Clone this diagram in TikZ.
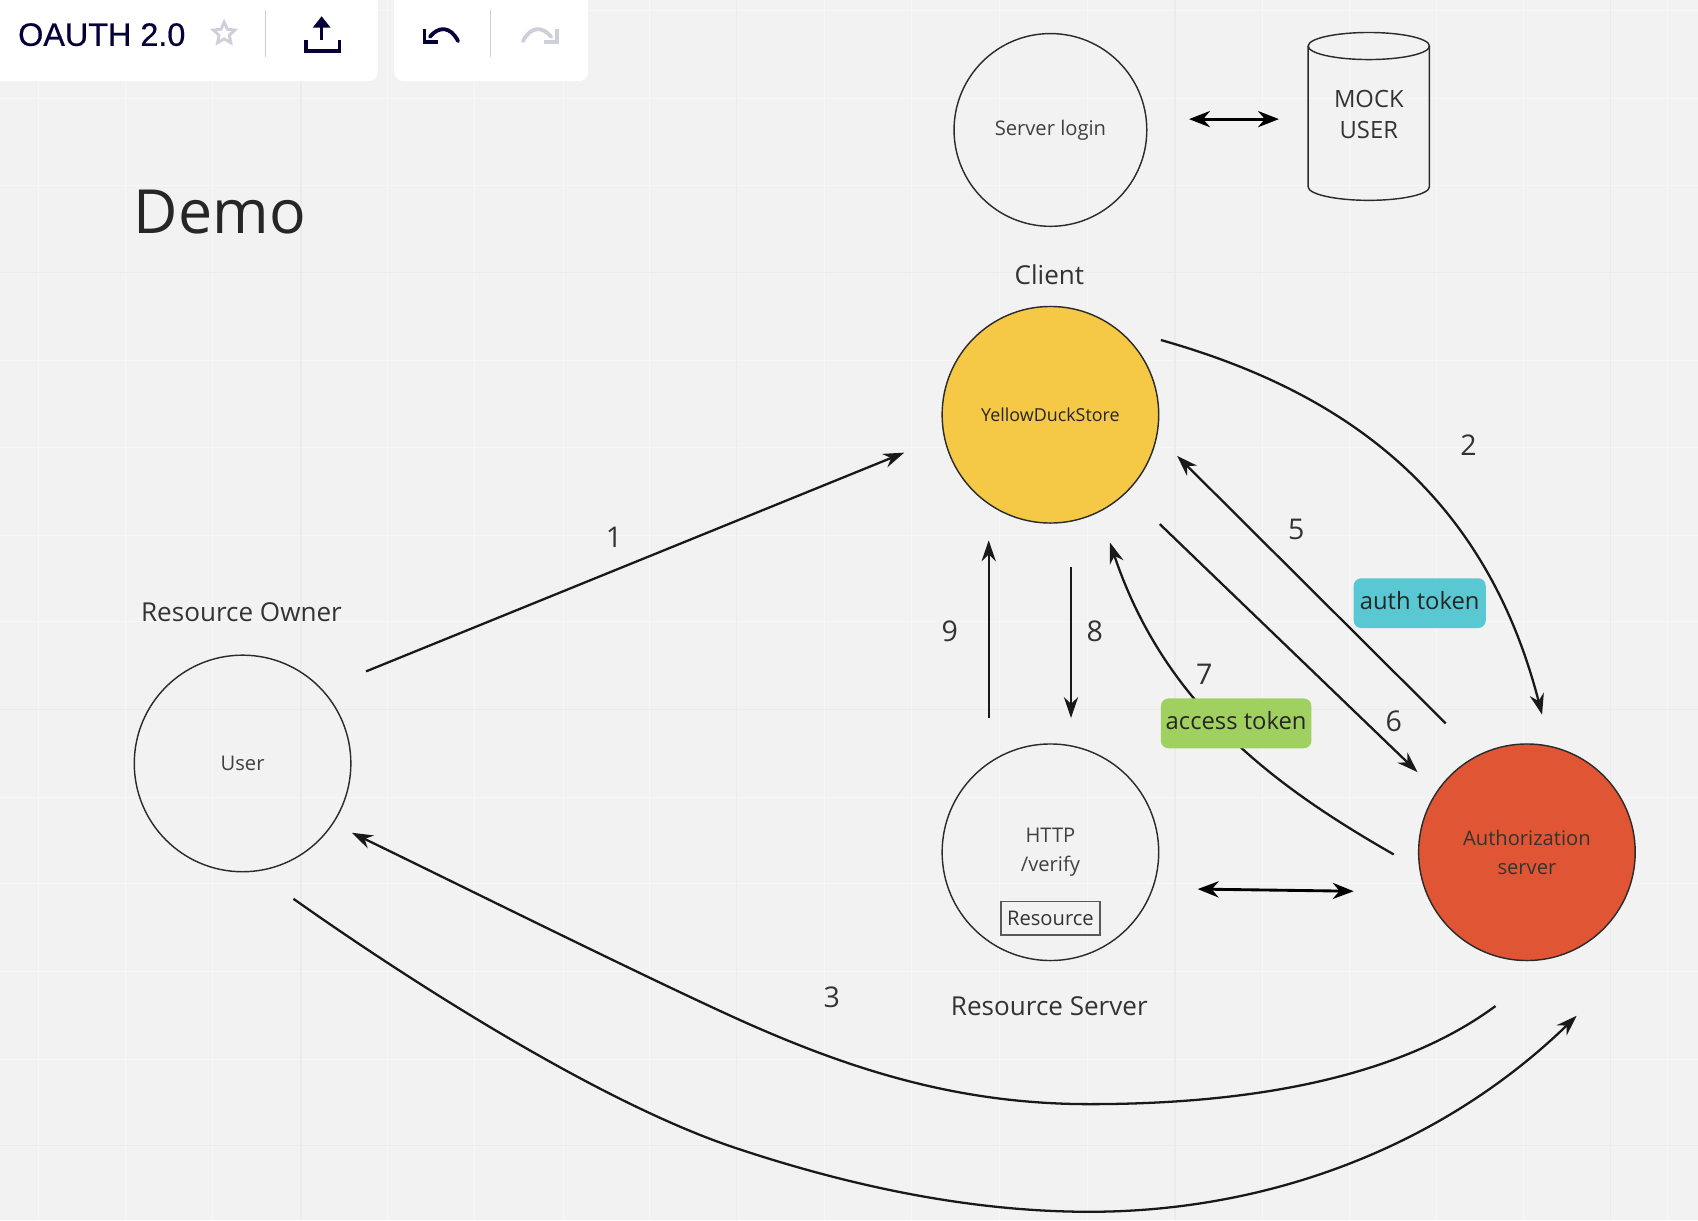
\documentclass[tikz,border=0pt]{standalone}
\usepackage{fontspec}
\setmainfont{Open Sans}
\newfontfamily\titlefont[FakeBold=0.5]{Liberation Sans}
\usetikzlibrary{arrows.meta,shapes.geometric}
\definecolor{canvas}{HTML}{F2F2F2}
\definecolor{navy}{HTML}{050038}
\definecolor{faded}{HTML}{CFCFDC}
\definecolor{inkline}{HTML}{2B2B2B}
\definecolor{duckyellow}{HTML}{F5C945}
\definecolor{authred}{HTML}{E05533}
\definecolor{tagblue}{HTML}{5AC8D2}
\definecolor{taggreen}{HTML}{A0D160}

\begin{document}
\begin{tikzpicture}[x=0.2mm,y=-0.2mm,
    roundnode/.style={draw=inkline,line width=0.75pt,shape=circle,inner sep=0pt,
      minimum size=4cm,align=center,font=\fontsize{10.6}{15.3}\selectfont,text=black!75},
    caption/.style={font=\fontsize{13.7}{17}\selectfont,text=black!80},
    numlabel/.style={font=\fontsize{15}{18}\selectfont,text=black!80},
    tag/.style={rounded corners=4pt,font=\fontsize{12.5}{15}\selectfont,text=black!85,
      inner sep=0pt,minimum height=0.92cm,text depth=3pt},
    flow/.style={-{Stealth[length=11pt,width=7.5pt]},line width=1.2pt,black!90},
    link/.style={{Stealth[length=11pt,width=8.5pt]}-{Stealth[length=11pt,width=8.5pt]},line width=1.5pt,black},
    undostroke/.style={line width=2pt,line cap=round}]
  \useasboundingbox (0,0) rectangle (1568,1126.6);
  \clip (0,0) rectangle (1568,1126.6);
  \fill[canvas] (0,0) rectangle (1568,1126.6);
  \foreach \gx in {35,116,196,358,438,520,600,761,842,923,1004,1166,1246,1326,1407,1540}
    \draw[line width=0.4pt,black!3] (\gx,0) -- (\gx,1127);
  \foreach \gy in {10,91,171,333,413,494,574,736,816,897,978}
    \draw[line width=0.4pt,black!3] (0,\gy) -- (1568,\gy);
  \foreach \gx in {278,680,1085,1487}
    \draw[line width=0.6pt,black!8] (\gx,0) -- (\gx,1127);
  \foreach \gy in {252,655,1058}
    \draw[line width=0.6pt,black!8] (0,\gy) -- (1568,\gy);

  % toolbar
  \fill[white,rounded corners=5pt] (-20,-20) rectangle (349,75);
  \fill[white,rounded corners=5pt] (364,-20) rectangle (543,75);
  \draw node[text=navy,font=\titlefont\fontsize{17}{20}\selectfont] (Ti) at (94,32) {OAUTH 2.0};
  \draw node[star,star points=5,star point ratio=2.1,draw=faded,line width=1.5pt,inner sep=0pt,
    minimum size=0.42cm] (St) at (207,31) {};
  \draw[faded,line width=0.8pt] (245,9) -- (245,53);
  \draw[faded,line width=0.8pt] (453,9) -- (453,53);
  \draw[navy,line width=1.7pt,-{Stealth[inset=0pt,length=6pt,width=9pt]}] (297,37) -- (297,15);
  \draw[navy,line width=1.7pt] (282.5,37) -- (282.5,47) -- (313.5,47) -- (313.5,37);
  \draw[navy,undostroke] (397,34) .. controls (405,24) and (416,24) .. (423,38);
  \draw[navy,line width=2pt] (392,27) -- (392,39) -- (404,39);
  \draw[faded,undostroke] (509,34) .. controls (501,24) and (490,24) .. (483,38);
  \draw[faded,line width=2pt] (514,27) -- (514,39) -- (502,39);

  \draw node[font=\fontsize{32}{36}\selectfont,text=black!85] (De) at (203,196) {Demo};

  % circles
  \draw node[roundnode,minimum size=3.56cm] (Lg) at (970,120) {Server login};
  \draw[draw=inkline,line width=0.75pt] (1264,42.5) ellipse [x radius=1.12cm,y radius=0.25cm];
  \draw[draw=inkline,line width=0.75pt] (1208,42.5) -- (1208,172.5)
    arc [start angle=180,end angle=360,x radius=1.12cm,y radius=0.25cm] -- (1320,42.5);
  \draw node[align=center,font=\fontsize{12.5}{16.5}\selectfont,text=black!80] (Mk) at (1264,105.5) {MOCK\\USER};
  \draw node[roundnode,fill=duckyellow,font=\fontsize{9.4}{11}\selectfont,text=black!85] (Cl) at (970,383) {YellowDuckStore};
  \draw node[roundnode] (Us) at (224,705) {User};
  \draw node[roundnode,fill=authred,text=black!80] (Au) at (1410,787) {Authorization\\server};
  \draw node[roundnode] (Rs) at (970,787) {};
  \draw node[align=center,font=\fontsize{10.6}{15.3}\selectfont,text=black!75] (Rt) at (970,787) {HTTP\\/verify};
  \draw node[draw=black!65,line width=0.8pt,inner sep=0pt,
    minimum width=1.83cm,minimum height=0.62cm,font=\fontsize{10.6}{12}\selectfont,text=black!80] (Rb) at (970,848) {Resource};

  % captions
  \draw node[caption] (CCl) at (969,254) {Client};
  \draw node[caption] (COw) at (223,565) {Resource Owner};
  \draw node[caption] (CRs) at (969,929) {Resource Server};

  % free ends of the arrows
  \coordinate (A1) at (338,620);
  \coordinate (B1) at (835,418);
  \coordinate (A2) at (1072,314);
  \coordinate (B2) at (1424,660);
  \coordinate (A3) at (1381,929);
  \coordinate (B3) at (325,769);
  \coordinate (A4) at (271,830);
  \coordinate (B4) at (1456,938);
  \coordinate (A5) at (1335,668);
  \coordinate (B5) at (1087,421);
  \coordinate (A6) at (1071,484);
  \coordinate (B6) at (1309,713);
  \coordinate (A7) at (1287,789);
  \coordinate (B7) at (1025,501);
  \coordinate (A8) at (989,524);
  \coordinate (B8) at (989,663);
  \coordinate (A9) at (913,663);
  \coordinate (B9) at (913,499);
  \coordinate (AL) at (1098,110);
  \coordinate (BL) at (1181,110);
  \coordinate (AR) at (1106,821);
  \coordinate (BR) at (1250,823);

  \draw[flow] (A1) -- (B1);
  \draw[flow] (A2) .. controls (1235,360) and (1370,450) .. (B2);
  \draw[flow] (A3) .. controls (1285,1000) and (1140,1019.6) .. (1006,1019.6)
    .. controls (885,1019.6) and (785,988) .. (679,940)
    .. controls (589,899) and (430,820) .. (B3);
  \draw[flow] (A4) .. controls (370,900) and (550,1017) .. (679,1060)
    .. controls (790,1097) and (900,1119) .. (1006,1119)
    .. controls (1170,1119) and (1330,1060) .. (B4);
  \draw[flow] (A5) -- (B5);
  \draw[flow] (A6) -- (B6);
  \draw[flow] (A7) .. controls (1175,725) and (1075,650) .. (B7);
  \draw[flow] (A8) -- (B8);
  \draw[flow] (A9) -- (B9);
  \draw[link] (AL) -- (BL);
  \draw[link] (AR) -- (BR);

  % tags
  \draw node[tag,fill=tagblue,minimum width=2.44cm] (Ta) at (1311,557) {auth token};
  \draw node[tag,fill=taggreen,minimum width=2.78cm] (Tb) at (1141.5,668) {access token};

  % numbers
  \draw node[numlabel] (N1) at (567,496) {1};
  \draw node[numlabel] (N2) at (1356,411) {2};
  \draw node[numlabel] (N3) at (768,921) {3};
  \draw node[numlabel] (N5) at (1197,489) {5};
  \draw node[numlabel] (N6) at (1287,666) {6};
  \draw node[numlabel] (N7) at (1112,623) {7};
  \draw node[numlabel] (N8) at (1011,583) {8};
  \draw node[numlabel] (N9) at (877,583) {9};
\end{tikzpicture}
\end{document}
